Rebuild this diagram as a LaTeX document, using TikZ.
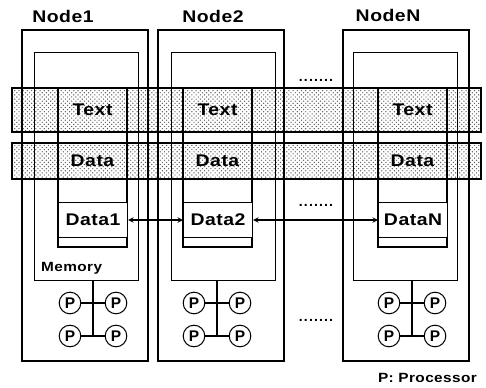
\documentclass[tikz,border=0pt]{standalone}
\usepackage{fontspec}
\setmainfont{Liberation Sans}
\usetikzlibrary{positioning, patterns}

\tikzset{
  band/.style={draw, pattern=crosshatch dots, pattern color=black!65},
  memory/.style={draw, anchor=north west, inner sep=0pt, minimum width=26mm, minimum height=57mm},
  cell/.style={draw, fill=white, anchor=north west, inner sep=0pt, minimum width=17.25mm, minimum height=8.75mm,
    font=\fontsize{12}{14}\selectfont\bfseries\addfontfeature{FakeStretch=1.15,LetterSpace=3}},
  proc/.style={circle, draw, fill=white, inner sep=0pt, minimum size=5.4mm,
    font=\fontsize{11}{12}\selectfont\bfseries},
  title/.style={font=\fontsize{12}{14}\selectfont\bfseries\addfontfeature{FakeStretch=1.15,LetterSpace=3}},
  seg/.style={font=\fontsize{12}{14}\selectfont\bfseries\addfontfeature{FakeStretch=1.15,LetterSpace=3}},
  small/.style={font=\fontsize{9.5}{11}\selectfont\bfseries\addfontfeature{FakeStretch=1.15,LetterSpace=3}},
  gap/.style={font=\fontsize{10}{11}\selectfont\bfseries\addfontfeature{LetterSpace=8}},
}

\begin{document}
\begin{tikzpicture}[x=0.25mm, y=-0.25mm, line width=0.75pt, >=stealth]
  \useasboundingbox (0,0) rectangle (486,388);

  % shared segments across all nodes
  \draw[band] (12,88) rectangle (481,132);
  \draw[band] (12,143) rectangle (481,179);

  \node[title] (head1) at (63,16) {Node1};
  \node[title] (head2) at (213,16) {Node2};
  \node[title] (headN) at (388,15) {NodeN};

  \foreach \id/\ox/\mx/\cx/\px in {1/22/34/58/93, 2/158/171/183/217, N/343/353/378/412} {
    \draw (\ox,30) rectangle ++(126,331);
    \node[memory] (mem\id) at (\mx,52) {};
    \draw (\cx,88) rectangle ++(69,159);
    \node[seg] (text\id) at (\cx+34.5,110) {Text};
    \node[seg] (dat\id) at (\cx+34.5,161) {Data};
    \node[cell] (data\id) at (\cx,202) {Data\id};
    % processors
    \node[proc] (pa\id) at (\px-23,303) {P};
    \node[proc] (pb\id) at (\px+23,303) {P};
    \node[proc] (pc\id) at (\px-23,336) {P};
    \node[proc] (pd\id) at (\px+23,336) {P};
    \coordinate (hub\id) at (\px,336);
    \draw (mem\id.south -| hub\id) -- (hub\id);
    \draw (pa\id) -- (pb\id);
    \draw (pc\id) -- (pd\id);
  }

  \node[small, anchor=west] (memlabel) at (36,268) {Memory};

  \draw[<->] (data1) -- (data2);
  \draw[<->] (data2) -- (dataN);

  \node[gap] (dots1) at (316,80) {.......};
  \node[gap] (dots2) at (316,205) {.......};
  \node[gap] (dots3) at (316,320) {.......};

  \node[small, anchor=east] (legend) at (482,378) {P: Processor};
\end{tikzpicture}
\end{document}
